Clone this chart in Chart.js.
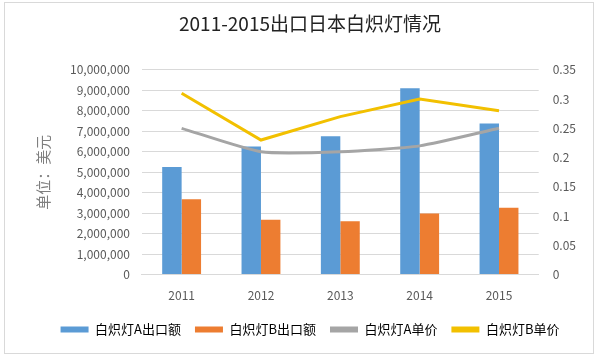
<!DOCTYPE html>
<html>
<head>
<meta charset="utf-8">
<script src="https://cdn.jsdelivr.net/npm/chart.js@4"></script>
<style>
  body { margin: 0; background: #fff; }
  #box { position: absolute; left: 4px; top: 2px; width: 590px; height: 352px; border: 1px solid #d9d9d9; box-sizing: border-box; }
  #wrap { position: absolute; left: 0; top: 0; width: 600px; height: 358px; }
</style>
</head>
<body>
<div id="box"></div>
<div id="wrap"><canvas id="mychart" width="600" height="358"></canvas></div>
<script>
// Start Data
const years = ['2011', '2012', '2013', '2014', '2015'];
const exportA = [5250000, 6250000, 6750000, 9100000, 7380000];
const exportB = [3680000, 2680000, 2600000, 2980000, 3260000];
const priceA = [0.25, 0.21, 0.21, 0.22, 0.25];
const priceB = [0.31, 0.23, 0.27, 0.30, 0.28];
const seriesNames = ['白炽灯A出口额', '白炽灯B出口额', '白炽灯A单价', '白炽灯B单价'];
// End Data

const cjk = '"Noto Sans CJK SC", "Noto Sans", sans-serif';
const ctx = document.getElementById('mychart');

new Chart(ctx, {
  data: {
    labels: years,
    datasets: [
      { type: 'bar', label: seriesNames[0], data: exportA, backgroundColor: '#5b9bd5', yAxisID: 'y', order: 2 },
      { type: 'bar', label: seriesNames[1], data: exportB, backgroundColor: '#ed7d31', yAxisID: 'y', order: 2 },
      { type: 'line', label: seriesNames[2], data: priceA, borderColor: '#a5a5a5', backgroundColor: '#a5a5a5',
        borderWidth: 3, pointRadius: 0, tension: 0.2, yAxisID: 'y1', order: 1 },
      { type: 'line', label: seriesNames[3], data: priceB, borderColor: '#f2c000', backgroundColor: '#f2c000',
        borderWidth: 3, pointRadius: 0, tension: 0, yAxisID: 'y1', order: 1 }
    ]
  },
  options: {
    responsive: false,
    animation: false,
    layout: { padding: { left: 30, right: 10, top: 4, bottom: 12 } },
    datasets: { bar: { barPercentage: 1, categoryPercentage: 0.49 } },
    plugins: {
      title: {
        display: true,
        text: '2011-2015出口日本白炽灯情况',
        color: '#222',
        font: { family: cjk, size: 19, weight: 'normal' },
        padding: { top: 8, bottom: 35 }
      },
      legend: {
        position: 'bottom',
        labels: {
          color: '#595959',
          font: { family: cjk, size: 13 },
          boxWidth: 28,
          boxHeight: 6,
          padding: 14,
          generateLabels: function(chart) {
            return chart.data.datasets.map(function(ds, i) {
              return {
                text: ds.label,
                fillStyle: ds.backgroundColor,
                strokeStyle: ds.backgroundColor,
                lineWidth: 0,
                hidden: false,
                datasetIndex: i
              };
            });
          }
        }
      },
      tooltip: { enabled: false }
    },
    scales: {
      x: {
        grid: { display: false },
        border: { color: '#d9d9d9' },
        ticks: { color: '#595959', font: { family: cjk, size: 12 }, padding: 6 }
      },
      y: {
        position: 'left',
        min: 0,
        max: 10000000,
        ticks: {
          stepSize: 1000000,
          color: '#595959',
          font: { family: cjk, size: 12 },
          padding: 12,
          callback: function(v) { return v.toLocaleString('en-US'); }
        },
        grid: { color: '#d9d9d9', drawTicks: false },
        border: { display: false },
        title: {
          display: true,
          text: '单位：美元',
          color: '#7f7f7f',
          font: { family: cjk, size: 15 },
          padding: { bottom: 6 }
        }
      },
      y1: {
        position: 'right',
        min: 0,
        max: 0.35,
        ticks: {
          stepSize: 0.05,
          color: '#595959',
          font: { family: cjk, size: 12 },
          padding: 14,
          callback: function(v) { return String(Math.round(v * 100) / 100); }
        },
        grid: { display: false, drawTicks: false },
        border: { display: false }
      }
    }
  }
});
</script>
</body>
</html>
